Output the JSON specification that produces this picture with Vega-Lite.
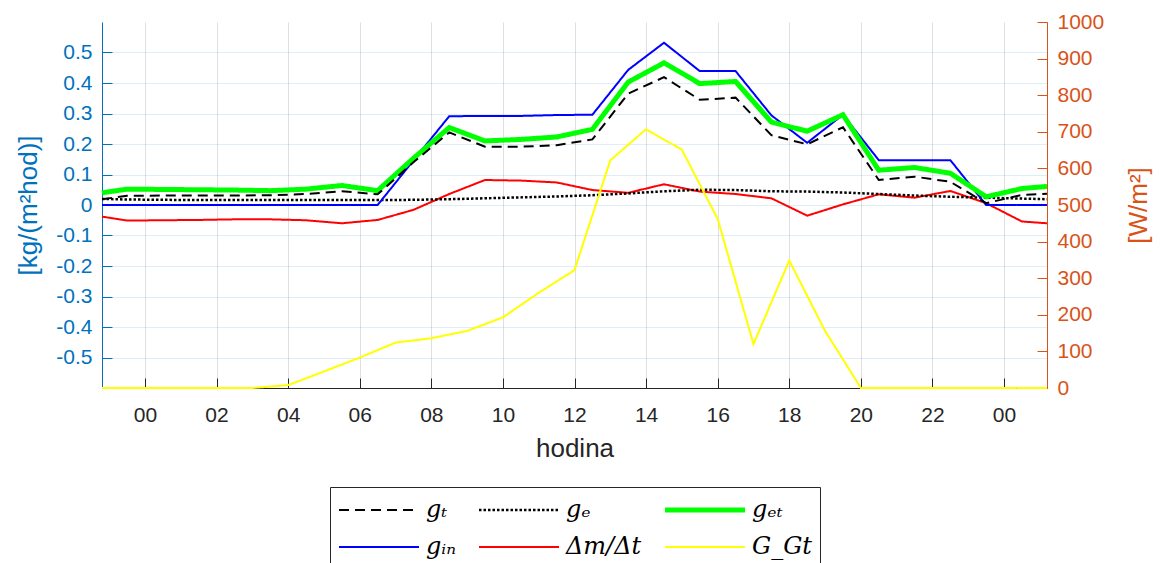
{
  "$schema": "https://vega.github.io/schema/vega-lite/v6.json",
  "width": 945,
  "height": 366,
  "autosize": {"type": "none"},
  "padding": {"left": 102, "top": 22, "right": 115, "bottom": 175},
  "background": "white",
  "datasets": {
    "left": [
      {"h": -1.2, "gt": 0.019, "ge": 0.020, "get": 0.040, "gin": 0, "dmdt": -0.038},
      {"h": -0.5, "gt": 0.030, "ge": 0.018, "get": 0.052, "gin": 0, "dmdt": -0.051},
      {"h": 0.5, "gt": 0.031, "ge": 0.017, "get": 0.051, "gin": 0, "dmdt": -0.050},
      {"h": 1.5, "gt": 0.031, "ge": 0.016, "get": 0.050, "gin": 0, "dmdt": -0.049},
      {"h": 2.5, "gt": 0.031, "ge": 0.016, "get": 0.049, "gin": 0, "dmdt": -0.047},
      {"h": 3.5, "gt": 0.032, "ge": 0.016, "get": 0.047, "gin": 0, "dmdt": -0.047},
      {"h": 4.5, "gt": 0.036, "ge": 0.016, "get": 0.052, "gin": 0, "dmdt": -0.050},
      {"h": 5.5, "gt": 0.045, "ge": 0.016, "get": 0.064, "gin": 0, "dmdt": -0.060},
      {"h": 6.5, "gt": 0.035, "ge": 0.016, "get": 0.047, "gin": 0, "dmdt": -0.049},
      {"h": 7.5, "gt": 0.140, "ge": 0.017, "get": 0.153, "gin": 0.146, "dmdt": -0.016},
      {"h": 8.5, "gt": 0.238, "ge": 0.019, "get": 0.254, "gin": 0.291, "dmdt": 0.036},
      {"h": 9.5, "gt": 0.191, "ge": 0.022, "get": 0.210, "gin": 0.292, "dmdt": 0.082},
      {"h": 10.5, "gt": 0.191, "ge": 0.025, "get": 0.215, "gin": 0.292, "dmdt": 0.080},
      {"h": 11.5, "gt": 0.196, "ge": 0.028, "get": 0.223, "gin": 0.295, "dmdt": 0.074},
      {"h": 12.5, "gt": 0.215, "ge": 0.032, "get": 0.248, "gin": 0.296, "dmdt": 0.049},
      {"h": 13.5, "gt": 0.365, "ge": 0.038, "get": 0.403, "gin": 0.443, "dmdt": 0.040},
      {"h": 14.5, "gt": 0.419, "ge": 0.045, "get": 0.466, "gin": 0.532, "dmdt": 0.068},
      {"h": 15.5, "gt": 0.345, "ge": 0.050, "get": 0.398, "gin": 0.439, "dmdt": 0.044},
      {"h": 16.5, "gt": 0.352, "ge": 0.049, "get": 0.405, "gin": 0.439, "dmdt": 0.036},
      {"h": 17.5, "gt": 0.229, "ge": 0.045, "get": 0.272, "gin": 0.294, "dmdt": 0.022},
      {"h": 18.5, "gt": 0.199, "ge": 0.044, "get": 0.242, "gin": 0.204, "dmdt": -0.035},
      {"h": 19.5, "gt": 0.255, "ge": 0.041, "get": 0.296, "gin": 0.296, "dmdt": 0.002},
      {"h": 20.5, "gt": 0.082, "ge": 0.036, "get": 0.114, "gin": 0.147, "dmdt": 0.035},
      {"h": 21.5, "gt": 0.093, "ge": 0.031, "get": 0.123, "gin": 0.147, "dmdt": 0.024},
      {"h": 22.5, "gt": 0.076, "ge": 0.027, "get": 0.104, "gin": 0.147, "dmdt": 0.046},
      {"h": 23.5, "gt": 0.006, "ge": 0.024, "get": 0.027, "gin": 0, "dmdt": 0.006},
      {"h": 24.5, "gt": 0.033, "ge": 0.021, "get": 0.054, "gin": 0, "dmdt": -0.054},
      {"h": 25.2, "gt": 0.037, "ge": 0.019, "get": 0.061, "gin": 0, "dmdt": -0.060}
    ],
    "right": [
      {"h": -1.2, "GGt": 0}, {"h": 0, "GGt": 0}, {"h": 1, "GGt": 0},
      {"h": 2, "GGt": 0}, {"h": 3, "GGt": 0}, {"h": 4, "GGt": 8}, {"h": 5, "GGt": 45},
      {"h": 6, "GGt": 83}, {"h": 7, "GGt": 124}, {"h": 8, "GGt": 136}, {"h": 9, "GGt": 156},
      {"h": 10, "GGt": 193}, {"h": 11, "GGt": 260}, {"h": 12, "GGt": 322}, {"h": 13, "GGt": 622},
      {"h": 14, "GGt": 707}, {"h": 15, "GGt": 651}, {"h": 16, "GGt": 462}, {"h": 17, "GGt": 120},
      {"h": 18, "GGt": 348}, {"h": 19, "GGt": 156}, {"h": 20, "GGt": 0}, {"h": 21, "GGt": 0},
      {"h": 22, "GGt": 0}, {"h": 23, "GGt": 0}, {"h": 24, "GGt": 0}, {"h": 25.2, "GGt": 0}
    ]
  },
  "config": {
    "view": {"stroke": null},
    "font": "Liberation Sans",
    "axis": {"titleFontWeight": "normal", "labelFont": "Liberation Sans", "titleFont": "Liberation Sans", "zindex": 0},
    "legend": {
      "orient": "none",
      "legendX": 228,
      "legendY": 465,
      "columns": 3,
      "direction": "horizontal",
      "symbolType": "stroke",
      "symbolSize": 6400,
      "symbolStrokeWidth": 2,
      "clipHeight": 30,
      "labelFont": "DejaVu Serif",
      "labelFontStyle": "italic",
      "labelFontSize": 24,
      "labelColor": "black",
      "strokeColor": "#262626",
      "fillColor": "white",
      "padding": 8,
      "rowPadding": 7,
      "columnPadding": 22,
      "gridAlign": "each",
      "labelOffset": 6,
      "labelLimit": 300
    }
  },
  "layer": [
    {
      "data": {"name": "left"},
      "transform": [{"fold": ["dmdt", "ge", "gin", "get", "gt"], "as": ["s", "v"]}],
      "mark": {"type": "line"},
      "encoding": {
        "x": {
          "field": "h", "type": "quantitative",
          "scale": {"domain": [-1.2, 25.2], "nice": false, "zero": false},
          "axis": {
            "values": [0, 2, 4, 6, 8, 10, 12, 14, 16, 18, 20, 22, 24],
            "labelExpr": "(datum.value % 24) < 10 ? '0' + (datum.value % 24) : '' + (datum.value % 24)",
            "title": "hodina",
            "titleFontSize": 26,
            "titleColor": "#262626",
            "titlePadding": 10,
            "labelFontSize": 21,
            "labelColor": "#262626",
            "domainColor": "#262626",
            "tickColor": "#262626",
            "tickSize": -10,
            "labelPadding": 26,
            "grid": true,
            "gridColor": "#262626",
            "gridOpacity": 0.15
          }
        },
        "y": {
          "field": "v", "type": "quantitative",
          "scale": {"domain": [-0.6, 0.6], "nice": false, "zero": false},
          "axis": {
            "values": [-0.5, -0.4, -0.3, -0.2, -0.1, 0, 0.1, 0.2, 0.3, 0.4, 0.5],
            "labelExpr": "replace(format(datum.value, '.1~f'), '−', '-')",
            "title": "[kg/(m²hod)]",
            "titleFontSize": 26,
            "titleColor": "#0072BD",
            "titlePadding": 14,
            "labelFontSize": 21,
            "labelColor": "#0072BD",
            "domainColor": "#0072BD",
            "tickColor": "#0072BD",
            "tickSize": -10,
            "labelPadding": 20,
            "grid": true,
            "gridColor": "#0072BD",
            "gridOpacity": 0.13
          }
        },
        "color": {
          "field": "s", "type": "nominal",
          "scale": {"domain": ["gt", "ge", "get", "gin", "dmdt", "GGt"], "range": ["#000000", "#000000", "#00FF00", "#0000FF", "#FF0000", "#FFFF00"]},
          "legend": {"title": null, "labelExpr": "datum.label == 'gt' ? 'gₜ' : datum.label == 'ge' ? 'gₑ' : datum.label == 'get' ? 'gₑₜ' : datum.label == 'gin' ? 'gᵢₙ' : datum.label == 'dmdt' ? 'Δm/Δt' : 'G_Gt'", "encode": {"symbols": {"update": {"strokeWidth": {"signal": "(datum.value == 'get' ? 5 : datum.value == 'ge' ? 2.5 : 2)"}}}}}
        },
        "strokeDash": {
          "field": "s", "type": "nominal",
          "scale": {"domain": ["gt", "ge", "get", "gin", "dmdt", "GGt"], "range": [[10, 6], [2.5, 2], [1, 0], [1, 0], [1, 0], [1, 0]]},
          "legend": {"title": null, "labelExpr": "datum.label == 'gt' ? 'gₜ' : datum.label == 'ge' ? 'gₑ' : datum.label == 'get' ? 'gₑₜ' : datum.label == 'gin' ? 'gᵢₙ' : datum.label == 'dmdt' ? 'Δm/Δt' : 'G_Gt'", "encode": {"symbols": {"update": {"strokeWidth": {"signal": "(datum.value == 'get' ? 5 : datum.value == 'ge' ? 2.5 : 2)"}}}}}
        },
        "strokeWidth": {"condition": [{"test": "datum.s == 'get'", "value": 5}, {"test": "datum.s == 'ge'", "value": 2.5}], "value": 2}
      }
    },
    {
      "data": {"name": "right"},
      "transform": [{"fold": ["GGt"], "as": ["s", "v"]}],
      "mark": {"type": "line", "strokeWidth": 2},
      "encoding": {
        "x": {"field": "h", "type": "quantitative"},
        "y": {
          "field": "v", "type": "quantitative",
          "scale": {"domain": [0, 1000], "nice": false, "zero": false},
          "axis": {
            "orient": "right",
            "values": [0, 100, 200, 300, 400, 500, 600, 700, 800, 900, 1000],
            "format": "d",
            "title": "[W/m²]",
            "titleAngle": 270,
            "titleFontSize": 26,
            "titleColor": "#D95319",
            "titlePadding": 48,
            "labelFontSize": 21,
            "labelColor": "#D95319",
            "domainColor": "#D95319",
            "tickColor": "#D95319",
            "tickSize": -10,
            "labelPadding": 20,
            "grid": false
          }
        },
        "color": {
          "field": "s", "type": "nominal",
          "legend": {"title": null, "labelExpr": "datum.label == 'gt' ? 'gₜ' : datum.label == 'ge' ? 'gₑ' : datum.label == 'get' ? 'gₑₜ' : datum.label == 'gin' ? 'gᵢₙ' : datum.label == 'dmdt' ? 'Δm/Δt' : 'G_Gt'", "encode": {"symbols": {"update": {"strokeWidth": {"signal": "(datum.value == 'get' ? 5 : datum.value == 'ge' ? 2.5 : 2)"}}}}}
        },
        "strokeDash": {
          "field": "s", "type": "nominal",
          "legend": {"title": null, "labelExpr": "datum.label == 'gt' ? 'gₜ' : datum.label == 'ge' ? 'gₑ' : datum.label == 'get' ? 'gₑₜ' : datum.label == 'gin' ? 'gᵢₙ' : datum.label == 'dmdt' ? 'Δm/Δt' : 'G_Gt'", "encode": {"symbols": {"update": {"strokeWidth": {"signal": "(datum.value == 'get' ? 5 : datum.value == 'ge' ? 2.5 : 2)"}}}}}
        }
      }
    }
  ],
  "resolve": {"scale": {"y": "independent"}}
}
